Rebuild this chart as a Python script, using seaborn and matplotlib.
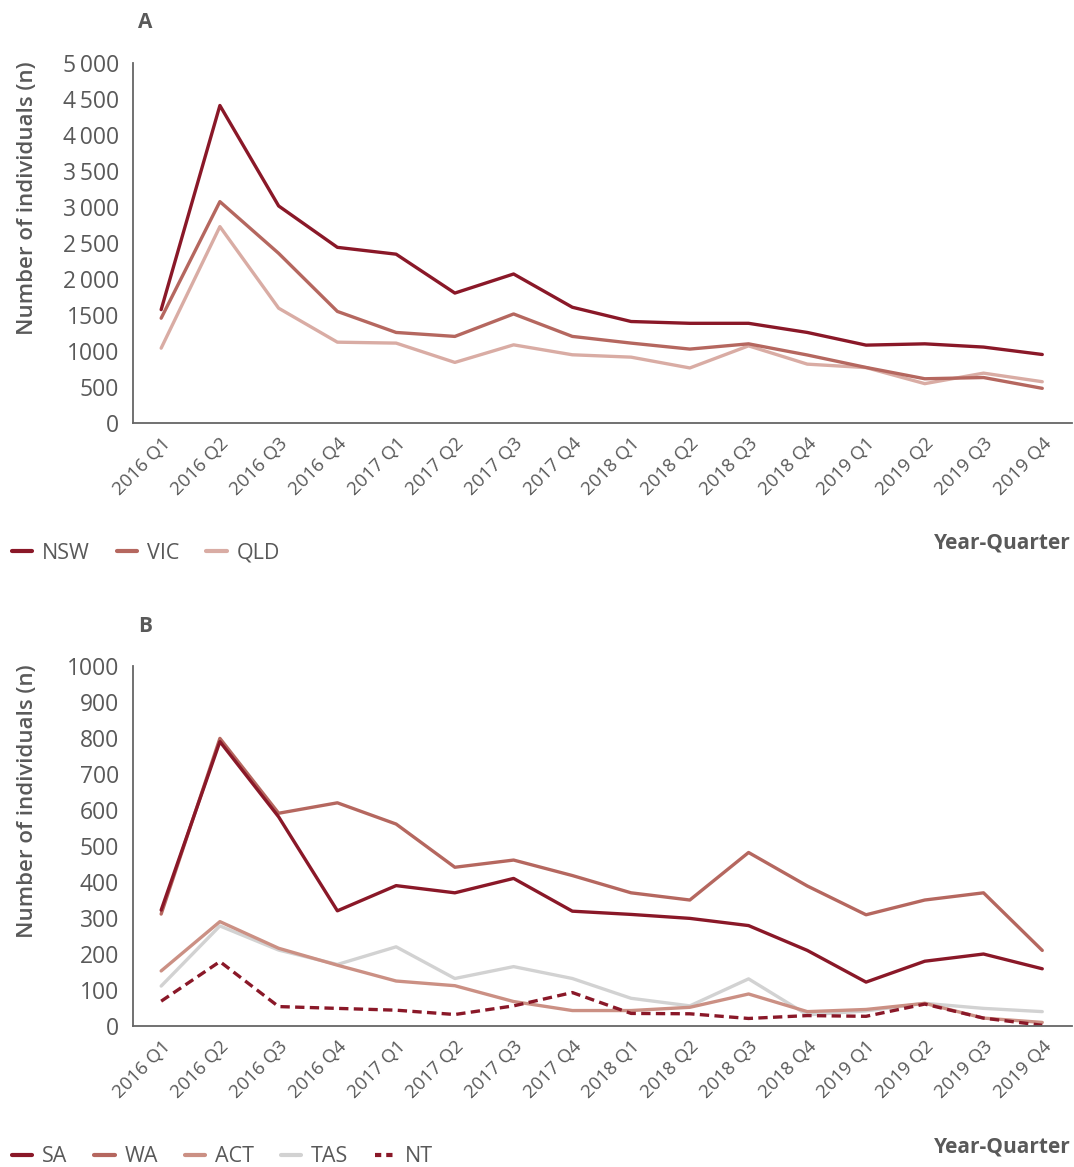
import pandas as pd
import numpy as np
import matplotlib.pyplot as plt
import seaborn as sns
from matplotlib.lines import Line2D

quarters = ['2016 Q1', '2016 Q2', '2016 Q3', '2016 Q4',
            '2017 Q1', '2017 Q2', '2017 Q3', '2017 Q4',
            '2018 Q1', '2018 Q2', '2018 Q3', '2018 Q4',
            '2019 Q1', '2019 Q2', '2019 Q3', '2019 Q4']

# Panel A
nsw = [1575, 4410, 3015, 2440, 2345, 1805, 2070, 1608, 1410, 1385, 1385, 1258, 1082, 1100, 1055, 952]
vic = [1456, 3075, 2357, 1550, 1258, 1203, 1515, 1203, 1110, 1027, 1100, 945, 772, 615, 632, 482]
qld = [1040, 2728, 1595, 1123, 1110, 842, 1086, 948, 915, 765, 1072, 818, 770, 547, 693, 574]

# Panel B
sa  = [322, 790, 581, 320, 390, 370, 410, 319, 310, 299, 279, 210, 122, 180, 200, 159]
wa  = [311, 799, 591, 620, 561, 441, 461, 418, 370, 350, 482, 389, 309, 350, 370, 210]
act = [153, 290, 216, 169, 125, 112, 68, 43, 43, 52, 89, 40, 46, 63, 22, 10]
tas = [111, 278, 211, 171, 220, 132, 165, 132, 77, 56, 131, 31, 42, 63, 49, 40]
nt  = [69, 179, 54, 49, 44, 32, 56, 93, 35, 34, 21, 29, 27, 61, 22, 2]

ticks_a = [0, 500, 1000, 1500, 2000, 2500, 3000, 3500, 4000, 4500, 5000]
ticklabels_a = ['0', '500', '1000', '1500', '2\u2009000', '2\u2009500', '3\u2009000',
                '3\u2009500', '4\u2009000', '4\u2009500', '5\u2009000']
ticks_b = [0, 100, 200, 300, 400, 500, 600, 700, 800, 900, 1000]
ticklabels_b = ['0', '100', '200', '300', '400', '500', '600', '700', '800', '900', '1000']

colors = {'NSW': '#8a1828', 'VIC': '#b5675f', 'QLD': '#d9aca4',
          'SA': '#8a1828', 'WA': '#b5675f', 'ACT': '#cb9084', 'TAS': '#d2d2d2', 'NT': '#8a1828'}
dashes = {'NSW': '', 'VIC': '', 'QLD': '', 'SA': '', 'WA': '', 'ACT': '', 'TAS': '', 'NT': (2.8, 1.6)}

sns.set_style('white')
plt.rcParams['font.family'] = ['Open Sans', 'DejaVu Sans']
grey = '#595959'

def long_df(series):
    rows = []
    for name, vals in series.items():
        for i, v in enumerate(vals):
            rows.append({'q': i, 'n': v, 'state': name})
    return pd.DataFrame(rows)

df_a = long_df({'NSW': nsw, 'VIC': vic, 'QLD': qld})
df_b = long_df({'TAS': tas, 'ACT': act, 'NT': nt, 'WA': wa, 'SA': sa})

fig = plt.figure(figsize=(10.74, 11.67), dpi=100)
ax_a = fig.add_axes([0.1238, 0.6375, 0.874, 0.3085])
ax_b = fig.add_axes([0.1238, 0.1208, 0.874, 0.3085])

panels = [
    (ax_a, df_a, ['QLD', 'VIC', 'NSW'], ticks_a, ticklabels_a, 5000, 'A', 0.981, ['NSW', 'VIC', 'QLD'], 553, 543),
    (ax_b, df_b, ['TAS', 'ACT', 'NT', 'WA', 'SA'], ticks_b, ticklabels_b, 1000, 'B', 1 - 627 / 1167,
     ['SA', 'WA', 'ACT', 'TAS', 'NT'], 1157, 1147),
]

for ax, df, order, ticks, labels, top, letter, ly, leg_order, leg_y, yq_y in panels:
    sns.lineplot(data=df, x='q', y='n', hue='state', style='state', hue_order=order,
                 style_order=order, palette=colors, dashes=dashes, linewidth=2.4,
                 legend=False, ax=ax)
    ax.set_xlim(-0.48, 15.5)
    ax.set_ylim(0, top)
    ax.set_xticks(range(len(quarters)))
    ax.set_xticklabels(quarters, rotation=45, ha='right', rotation_mode='anchor',
                       fontsize=13.5, color=grey)
    ax.set_yticks(ticks)
    ax.set_yticklabels(labels, fontsize=16.5, color=grey)
    ax.tick_params(axis='y', direction='in', length=22, width=1.3, color='#777777', pad=10)
    ax.tick_params(axis='x', length=0, pad=8)
    ax.set_xlabel('')
    ax.set_ylabel('')
    for s in ['top', 'right']:
        ax.spines[s].set_visible(False)
    for s in ['left', 'bottom']:
        ax.spines[s].set_color('#666666')
        ax.spines[s].set_linewidth(1.3)

    pos = ax.get_position()
    fig.text(0.135, ly, letter, fontsize=15, fontweight='bold', color=grey, ha='center', va='center')
    fig.text(0.026, pos.y1 + 0.001, 'Number of individuals (n)', rotation=90, fontsize=16,
             fontweight='semibold', color=grey, ha='center', va='top')
    fig.text(0.997, 1 - yq_y / 1167, 'Year-Quarter', fontsize=15, fontweight='bold',
             color=grey, ha='right', va='center')

    handles = [Line2D([0], [0], color=colors[k], lw=3,
                      linestyle=(0, (1.5, 1.2)) if k == 'NT' else '-') for k in leg_order]
    fig.legend(handles, leg_order, loc='center left', bbox_to_anchor=(0.003, 1 - leg_y / 1167),
               ncol=len(leg_order), frameon=False, fontsize=15.5, handlelength=0.95,
               handletextpad=0.45, columnspacing=1.25, labelcolor=grey, borderaxespad=0)

plt.savefig('out.png', dpi=100)
